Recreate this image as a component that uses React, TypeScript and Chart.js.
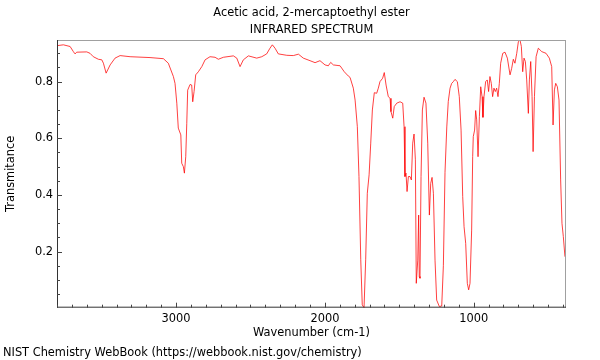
import React, { useEffect, useRef } from "react";
import { Chart, registerables } from "chart.js";

Chart.register(...registerables);

// ---- data ----
const wavenumbers = [
  3800, 3757, 3712, 3690, 3679, 3667, 3600, 3578, 3556, 3522, 3499, 3488, 3470, 3443, 3410, 3376, 3309, 3175,
  3085, 3052, 3018, 3007, 2995, 2985, 2968, 2962, 2951, 2944, 2935, 2928, 2922, 2906, 2895, 2888, 2879, 2868,
  2850, 2827, 2805, 2772, 2738, 2716, 2682, 2615, 2592, 2570, 2548, 2514, 2458, 2424, 2391, 2369, 2353, 2335,
  2313, 2256, 2212, 2178, 2145, 2100, 2066, 2033, 1999, 1977, 1961, 1943, 1898, 1870, 1843, 1831, 1809, 1797,
  1782, 1771, 1759, 1749, 1737, 1726, 1715, 1703, 1692, 1681, 1668, 1652, 1641, 1630, 1612, 1601, 1589, 1574,
  1562, 1556, 1544, 1534, 1517, 1495, 1477, 1468, 1462, 1455, 1448, 1439, 1428, 1419, 1410, 1401, 1392, 1386,
  1376, 1370, 1366, 1361, 1354, 1345, 1334, 1321, 1309, 1298, 1289, 1280, 1271, 1260, 1249, 1231, 1215, 1204,
  1193, 1181, 1171, 1159, 1148, 1137, 1126, 1110, 1097, 1085, 1074, 1065, 1054, 1043, 1034, 1025, 1014, 1007,
  1003, 994, 987, 980, 971, 962, 953, 944, 938, 931, 920, 909, 900, 891, 882, 873, 864, 855, 846, 837, 828, 819,
  805, 790, 774, 756, 745, 734, 723, 711, 700, 689, 680, 671, 662, 653, 644, 633, 626, 617, 608, 601, 592, 581,
  566, 543, 514, 492, 476, 467, 458, 449, 438, 427, 416, 407, 398, 387,
];
const transmittance = [
  0.927, 0.93, 0.924, 0.906, 0.898, 0.904, 0.905, 0.9, 0.888, 0.879, 0.877, 0.865, 0.83, 0.859, 0.883, 0.892, 0.888, 0.885,
  0.881, 0.865, 0.818, 0.794, 0.724, 0.636, 0.612, 0.512, 0.5, 0.477, 0.535, 0.653, 0.77, 0.79, 0.788, 0.729, 0.765, 0.824,
  0.835, 0.853, 0.877, 0.888, 0.886, 0.879, 0.886, 0.891, 0.883, 0.853, 0.877, 0.891, 0.883, 0.888, 0.898, 0.918, 0.93, 0.918,
  0.898, 0.893, 0.892, 0.897, 0.883, 0.874, 0.867, 0.874, 0.859, 0.856, 0.868, 0.859, 0.856, 0.835, 0.82, 0.815, 0.777, 0.735,
  0.641, 0.465, 0.171, 0.012, 0.002, 0.171, 0.406, 0.471, 0.583, 0.7, 0.761, 0.759, 0.777, 0.8, 0.812, 0.832, 0.788, 0.747,
  0.741, 0.694, 0.671, 0.712, 0.724, 0.729, 0.724, 0.641, 0.465, 0.477, 0.412, 0.465, 0.465, 0.453, 0.583, 0.615, 0.524, 0.088,
  0.17, 0.329, 0.112, 0.106, 0.465, 0.7, 0.745, 0.724, 0.583, 0.329, 0.441, 0.462, 0.406, 0.17, 0.029, 0.006, 0.008, 0.15,
  0.48, 0.64, 0.73, 0.777, 0.794, 0.8, 0.808, 0.8, 0.747, 0.629, 0.394, 0.288, 0.229, 0.088, 0.065, 0.088, 0.276, 0.535,
  0.606, 0.629, 0.698, 0.665, 0.535, 0.676, 0.782, 0.747, 0.674, 0.747, 0.8, 0.806, 0.765, 0.818, 0.794, 0.747, 0.777, 0.765, 0.777, 0.747, 0.794, 0.865,
  0.9, 0.904, 0.883, 0.824, 0.847, 0.879, 0.865, 0.9, 0.941, 0.947, 0.924, 0.835, 0.883, 0.871, 0.806, 0.688, 0.806, 0.871, 0.747, 0.553, 0.747, 0.888,
  0.918, 0.906, 0.9, 0.883, 0.853, 0.647, 0.771, 0.794, 0.782, 0.735, 0.453, 0.3, 0.253, 0.182,
];

const xMin = 380;
const xMax = 3800;
const yMin = 0.002;
const yMax = 0.947;
const xMajorTicks = [3000, 2000, 1000];
const yMajorTicks = [0.2, 0.4, 0.6, 0.8];
const xMinorStep = 100;
const yMinorStep = 0.05;

const titleLines = ["Acetic acid, 2-mercaptoethyl ester", "INFRARED SPECTRUM"];
const xLabel = "Wavenumber (cm-1)";
const yLabel = "Transmitance";
const footerText = "NIST Chemistry WebBook (https://webbook.nist.gov/chemistry)";

const FONT = "'DejaVu Sans', sans-serif";
const FONT_SIZE = 11.4;

const decorPlugin = {
  id: "decor",
  afterDraw(chart: any) {
    const { ctx, chartArea } = chart;
    const { left, right, top, bottom } = chartArea;
    const xs = chart.scales.x;
    const ys = chart.scales.y;
    ctx.save();

    // frame
    ctx.lineWidth = 1;
    ctx.strokeStyle = "#a0a0a0";
    ctx.beginPath();
    ctx.moveTo(left, top + 0.5);
    ctx.lineTo(right, top + 0.5);
    ctx.moveTo(right - 0.5, top);
    ctx.lineTo(right - 0.5, bottom);
    ctx.stroke();
    ctx.strokeStyle = "#333";
    ctx.beginPath();
    ctx.moveTo(left + 0.5, top);
    ctx.lineTo(left + 0.5, bottom);
    ctx.moveTo(left, bottom - 0.5);
    ctx.lineTo(right, bottom - 0.5);
    ctx.stroke();

    // inward ticks
    ctx.strokeStyle = "#444";
    ctx.beginPath();
    for (let v = Math.ceil(xMin / xMinorStep) * xMinorStep; v <= xMax; v += xMinorStep) {
      const px = Math.round(xs.getPixelForValue(v)) + 0.5;
      const major = xMajorTicks.includes(v);
      ctx.moveTo(px, bottom);
      ctx.lineTo(px, bottom - (major ? 5 : 3));
    }
    for (let i = 1; i * yMinorStep <= yMax; i++) {
      const v = i * yMinorStep;
      const py = Math.round(ys.getPixelForValue(v)) + 0.5;
      const major = yMajorTicks.some((m) => Math.abs(m - v) < 1e-6);
      ctx.moveTo(left, py);
      ctx.lineTo(left + (major ? 5 : 3), py);
    }
    ctx.stroke();

    // texts
    ctx.fillStyle = "#000";
    ctx.font = `${FONT_SIZE}px ${FONT}`;
    ctx.textAlign = "center";
    ctx.textBaseline = "middle";
    const cx = (left + right) / 2;
    ctx.fillText(titleLines[0], cx, 13);
    ctx.fillText(titleLines[1], cx, 30);
    ctx.fillText(xLabel, cx, 333);

    ctx.save();
    ctx.translate(11, (top + bottom) / 2);
    ctx.rotate(-Math.PI / 2);
    ctx.fillText(yLabel, 0, 0);
    ctx.restore();

    ctx.textAlign = "left";
    ctx.fillText(footerText, 3, 353);
    ctx.restore();
  },
};

export default function App() {
  const canvasRef = useRef<HTMLCanvasElement | null>(null);

  useEffect(() => {
    const canvas = canvasRef.current;
    if (!canvas) return;
    const points = wavenumbers.map((x, i) => ({ x, y: transmittance[i] }));
    const chart = new Chart(canvas, {
      type: "line",
      data: {
        datasets: [
          {
            data: points,
            borderColor: "rgba(255, 0, 0, 0.75)",
            borderWidth: 1,
            pointRadius: 0,
            tension: 0,
            fill: false,
          },
        ],
      },
      options: {
        responsive: false,
        animation: false,
        devicePixelRatio: 1,
        layout: { padding: { left: 0, right: 34, top: 40, bottom: 0 } },
        plugins: {
          legend: { display: false },
          tooltip: { enabled: false },
          title: { display: false },
        },
        scales: {
          x: {
            type: "linear",
            reverse: true,
            min: xMin,
            max: xMax,
            grid: { display: false, drawTicks: false },
            border: { display: false },
            afterBuildTicks: (s: any) => {
              s.ticks = xMajorTicks.map((v) => ({ value: v }));
            },
            afterFit: (s: any) => {
              s.height = 52.3;
            },
            ticks: {
              padding: 4.5,
              maxRotation: 0,
              autoSkip: false,
              color: "#000",
              font: { family: FONT, size: FONT_SIZE },
              callback: (v: any) => String(v),
            },
          },
          y: {
            type: "linear",
            min: yMin,
            max: yMax,
            grid: { display: false, drawTicks: false },
            border: { display: false },
            afterBuildTicks: (s: any) => {
              s.ticks = yMajorTicks.map((v) => ({ value: v }));
            },
            afterFit: (s: any) => {
              s.width = 57;
            },
            ticks: {
              padding: 4,
              autoSkip: false,
              color: "#000",
              font: { family: FONT, size: FONT_SIZE },
              callback: (v: any) => String(v),
            },
          },
        },
      },
      plugins: [decorPlugin],
    } as any);
    return () => chart.destroy();
  }, []);

  return (
    <div style={{ position: "fixed", left: 0, top: 0, width: 600, height: 360, background: "#fff" }}>
      <canvas ref={canvasRef} width={600} height={360} style={{ display: "block", width: 600, height: 360 }} />
    </div>
  );
}
